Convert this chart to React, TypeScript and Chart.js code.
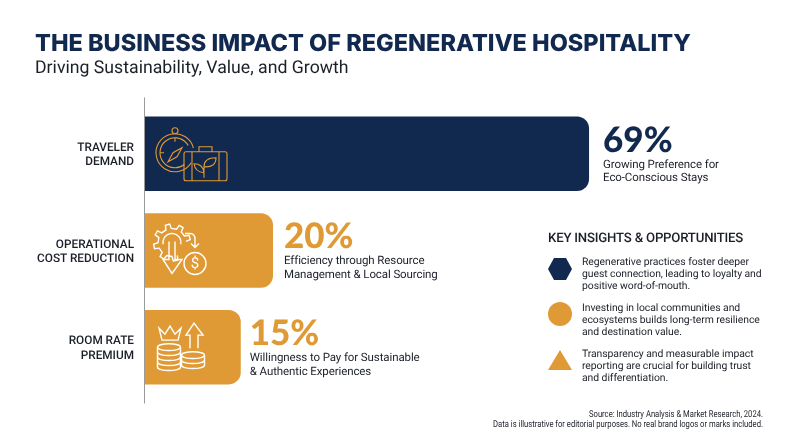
import { useEffect, useRef } from "react";
import { Chart, registerables } from "chart.js";

Chart.register(...registerables);

const NAVY = "#12294f";
const ORANGE = "#e09a35";
const INK = "#1b1f27";
const FONT = "Roboto";

const categories = [
  ["TRAVELER", "DEMAND"],
  ["OPERATIONAL", "COST REDUCTION"],
  ["ROOM RATE", "PREMIUM"],
];
const values = [69, 20, 15];
const barColors = [NAVY, ORANGE, ORANGE];
const valueColors = [NAVY, ORANGE, ORANGE];
const labelGaps = [14, 11, 9];
const descriptions = [
  ["Growing Preference for", "Eco-Conscious Stays"],
  ["Efficiency through Resource", "Management & Local Sourcing"],
  ["Willingness to Pay for Sustainable", "& Authentic Experiences"],
];
const insightsTitle = "KEY INSIGHTS & OPPORTUNITIES";
const insights = [
  ["Regenerative practices foster deeper", "guest connection, leading to loyalty and", "positive word-of-mouth."],
  ["Investing in local communities and", "ecosystems builds long-term resilience", "and destination value."],
  ["Transparency and measurable impact", "reporting are crucial for building trust", "and differentiation."],
];
const footnotes = [
  "Source: Industry Analysis & Market Research, 2024.",
  "Data is illustrative for editorial purposes. No real brand logos or marks included.",
];

// line icons, origin is the middle of the bar's left edge
function travelIcon(ctx: CanvasRenderingContext2D) {
  ctx.beginPath();
  ctx.arc(31, -1, 19, 0.55, Math.PI * 2 - 0.25);
  ctx.stroke();
  ctx.beginPath();
  ctx.arc(31, -1, 15, 0.9, Math.PI * 2 - 0.5);
  ctx.stroke();
  ctx.beginPath();
  ctx.arc(31, -23, 3, 0, Math.PI * 2);
  ctx.stroke();
  ctx.beginPath();
  ctx.moveTo(38, -6);
  ctx.lineTo(33, 3);
  ctx.lineTo(24, 8);
  ctx.lineTo(29, -1);
  ctx.closePath();
  ctx.moveTo(31, -16);
  ctx.lineTo(31, -12);
  ctx.moveTo(16, -1);
  ctx.lineTo(20, -1);
  ctx.stroke();
  ctx.beginPath();
  ctx.roundRect(40, -2, 43, 29, 2);
  ctx.moveTo(48, -2);
  ctx.lineTo(48, 27);
  ctx.moveTo(75, -2);
  ctx.lineTo(75, 27);
  ctx.moveTo(55, -2);
  ctx.lineTo(55, -7);
  ctx.lineTo(68, -7);
  ctx.lineTo(68, -2);
  ctx.moveTo(60, 24);
  ctx.lineTo(60, 13);
  ctx.quadraticCurveTo(72, 14, 72, 4);
  ctx.quadraticCurveTo(60, 4, 60, 13);
  ctx.moveTo(60, 19);
  ctx.quadraticCurveTo(51, 18, 50, 10);
  ctx.quadraticCurveTo(59, 10, 60, 19);
  ctx.stroke();
}

function costIcon(ctx: CanvasRenderingContext2D) {
  // gear outline, open towards the lower right where the dollar sits
  ctx.beginPath();
  const teeth = 7;
  for (let i = 0; i < teeth; i++) {
    const a = 0.5 + (i / teeth) * 5.4 + 0.25;
    const pts: [number, number][] = [
      [a - 0.2, 14],
      [a - 0.12, 18.5],
      [a + 0.12, 18.5],
      [a + 0.2, 14],
    ];
    pts.forEach(([t, r], k) => {
      const px = 28 + Math.cos(t + Math.PI * 0.2) * r;
      const py = -8 + Math.sin(t + Math.PI * 0.2) * r;
      if (i === 0 && k === 0) ctx.moveTo(px, py);
      else ctx.lineTo(px, py);
    });
  }
  ctx.stroke();
  ctx.beginPath();
  ctx.arc(28, -8, 9, 0.2, Math.PI - 0.2, true);
  ctx.stroke();
  ctx.beginPath();
  ctx.moveTo(25, -9);
  ctx.lineTo(25, 9);
  ctx.lineTo(19, 9);
  ctx.lineTo(28, 23);
  ctx.lineTo(38, 9);
  ctx.lineTo(31, 9);
  ctx.lineTo(31, -9);
  ctx.stroke();
  ctx.beginPath();
  ctx.arc(51, 13, 11, 0, Math.PI * 2);
  ctx.stroke();
  ctx.beginPath();
  ctx.moveTo(41, -17);
  ctx.lineTo(46, -17);
  ctx.quadraticCurveTo(51, -17, 51, -11);
  ctx.lineTo(51, -3);
  ctx.moveTo(47, -7);
  ctx.lineTo(51, -3);
  ctx.lineTo(55, -7);
  ctx.stroke();
  ctx.save();
  ctx.fillStyle = "#fff";
  ctx.font = `400 15px ${FONT}`;
  ctx.textAlign = "center";
  ctx.textBaseline = "middle";
  ctx.fillText("$", 51, 14);
  ctx.restore();
}

function coinStack(ctx: CanvasRenderingContext2D, x: number, top: number, count: number) {
  ctx.beginPath();
  ctx.ellipse(x, top, 11.5, 3.4, 0, 0, Math.PI * 2);
  ctx.stroke();
  for (let i = 0; i < count; i++) {
    ctx.beginPath();
    ctx.moveTo(x - 11.5, top + i * 5);
    ctx.lineTo(x - 11.5, top + (i + 1) * 5);
    ctx.ellipse(x, top + (i + 1) * 5, 11.5, 3.4, 0, Math.PI, 0, true);
    ctx.lineTo(x + 11.5, top + i * 5);
    ctx.stroke();
  }
}

function premiumIcon(ctx: CanvasRenderingContext2D) {
  ctx.beginPath();
  ctx.moveTo(18, -7);
  ctx.lineTo(15, -19);
  ctx.lineTo(21, -13);
  ctx.lineTo(26, -21);
  ctx.lineTo(31, -13);
  ctx.lineTo(37, -19);
  ctx.lineTo(34, -7);
  ctx.closePath();
  ctx.stroke();
  coinStack(ctx, 25, 0, 4);
  coinStack(ctx, 49, 8, 2);
  ctx.beginPath();
  ctx.moveTo(46, 1);
  ctx.lineTo(46, -12);
  ctx.lineTo(42, -12);
  ctx.lineTo(50, -24);
  ctx.lineTo(59, -12);
  ctx.lineTo(54, -12);
  ctx.lineTo(54, 1);
  ctx.stroke();
}

const icons = [
  { draw: travelIcon, color: ORANGE, width: 1.1 },
  { draw: costIcon, color: "#ffffff", width: 1.4 },
  { draw: premiumIcon, color: "#ffffff", width: 1.4 },
];

const decorations = {
  id: "decorations",
  beforeDraw(chart: any) {
    chart.ctx.textRendering = "geometricPrecision";
  },
  afterDatasetsDraw(chart: any) {
    const { ctx, chartArea } = chart;
    const bars = chart.getDatasetMeta(0).data;
    ctx.save();

    // axis line runs a little past the plot area
    ctx.strokeStyle = "#9a9a9a";
    ctx.lineWidth = 1;
    ctx.beginPath();
    ctx.moveTo(chartArea.left + 0.5, chartArea.top - 8);
    ctx.lineTo(chartArea.left + 0.5, chartArea.bottom + 8);
    ctx.stroke();

    bars.forEach((bar: any, i: number) => {
      ctx.save();
      ctx.translate(chartArea.left, bar.y);
      ctx.strokeStyle = icons[i].color;
      ctx.lineWidth = icons[i].width;
      icons[i].draw(ctx);
      ctx.restore();

      const x = bar.x + labelGaps[i];
      ctx.textAlign = "left";
      ctx.textBaseline = "alphabetic";
      ctx.letterSpacing = "0px";
      ctx.fillStyle = valueColors[i];
      ctx.font = `900 35px Lato`;
      ctx.fillText(`${values[i]}%`, x, bar.y - 2);
      ctx.fillStyle = INK;
      ctx.font = `400 11.5px ${FONT}`;
      ctx.letterSpacing = "-0.1px";
      ctx.textBaseline = "middle";
      descriptions[i].forEach((line, k) => ctx.fillText(line, x, bar.y + 11 + k * 13.5));
    });

    // key insights panel
    ctx.textBaseline = "middle";
    ctx.fillStyle = INK;
    ctx.font = `500 13.2px ${FONT}`;
    ctx.letterSpacing = "-0.2px";
    ctx.fillText(insightsTitle, 548, 238.5);
    ctx.font = `400 10.4px ${FONT}`;
    ctx.letterSpacing = "-0.06px";
    insights.forEach((lines, i) => {
      lines.forEach((line, k) => ctx.fillText(line, 582, 262 + i * 46 + k * 12.3));
    });
    ctx.letterSpacing = "0px";

    ctx.fillStyle = NAVY;
    ctx.beginPath();
    ctx.moveTo(548, 269);
    ctx.lineTo(554, 258);
    ctx.lineTo(566, 258);
    ctx.lineTo(572, 269);
    ctx.lineTo(566, 280);
    ctx.lineTo(554, 280);
    ctx.closePath();
    ctx.fill();
    ctx.fillStyle = ORANGE;
    ctx.beginPath();
    ctx.arc(560, 314, 12, 0, Math.PI * 2);
    ctx.fill();
    ctx.beginPath();
    ctx.moveTo(560, 350);
    ctx.lineTo(572, 370);
    ctx.lineTo(548, 370);
    ctx.closePath();
    ctx.fill();

    // footnote is a condensed face in the original, squeeze it
    ctx.fillStyle = INK;
    ctx.textAlign = "right";
    ctx.font = `400 9.5px ${FONT}`;
    footnotes.forEach((line, i) => {
      ctx.save();
      ctx.translate(763, 415 + i * 10);
      ctx.scale(0.805, 1);
      ctx.fillText(line, 0, 0);
      ctx.restore();
    });
    ctx.restore();
  },
};

export default function App() {
  const canvasRef = useRef<HTMLCanvasElement>(null);

  useEffect(() => {
    if (!canvasRef.current) return;
    const chart = new Chart(canvasRef.current, {
      type: "bar",
      data: {
        labels: categories,
        datasets: [
          {
            data: values,
            backgroundColor: barColors,
            borderRadius: { topRight: 12, bottomRight: 12, topLeft: 0, bottomLeft: 0 },
            borderSkipped: false,
            categoryPercentage: 1,
            barPercentage: 0.77,
          },
        ],
      },
      options: {
        indexAxis: "y",
        responsive: false,
        animation: false,
        layout: { padding: { top: 29, left: 35, right: 11, bottom: 51.5 } },
        scales: {
          x: { display: false, min: 0, max: 100 },
          y: {
            grid: { display: false, drawTicks: false, tickLength: 0 },
            border: { display: false },
            afterFit: (scale: any) => {
              scale.width = 109;
            },
            ticks: {
              color: INK,
              padding: 10,
              labelOffset: 1.5,
              font: { family: FONT, size: 11.8, weight: 500, lineHeight: 1.22 },
            },
          },
        },
        plugins: {
          legend: { display: false },
          tooltip: { enabled: false },
          title: {
            display: true,
            text: "THE BUSINESS IMPACT OF REGENERATIVE HOSPITALITY",
            align: "start",
            color: NAVY,
            padding: 0,
            font: { family: "Inter", size: 23.5, weight: 800, lineHeight: 1.25 },
          },
          subtitle: {
            display: true,
            text: "Driving Sustainability, Value, and Growth",
            align: "start",
            color: INK,
            padding: { top: 0, bottom: 25.8 },
            font: { family: FONT, size: 17.7, weight: 400, lineHeight: 1.2 },
          },
        },
      },
      plugins: [decorations],
    });
    return () => chart.destroy();
  }, []);

  return (
    <div style={{ position: "absolute", left: 0, top: 0, width: 800, height: 447, background: "#fff" }}>
      <canvas ref={canvasRef} width={800} height={447} />
    </div>
  );
}
